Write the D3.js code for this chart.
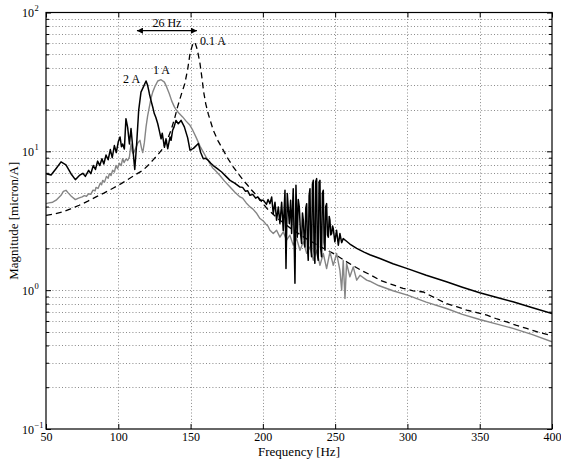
<!DOCTYPE html>
<html>
<head>
<meta charset="utf-8">
<script src="https://cdn.jsdelivr.net/npm/d3@7/dist/d3.min.js"></script>
<style>
  html, body { margin: 0; padding: 0; background: #fff; }
  svg { display: block; }
  text { font-family: "Liberation Serif", "DejaVu Serif", serif; }
</style>
</head>
<body>
<svg id="chart" width="561" height="460"></svg>
<script>
// ---------- data ----------
const xTickValues = [50, 100, 150, 200, 250, 300, 350, 400];
const yDecades = [0.1, 1, 10, 100];
const yDecadeExponents = ["\u22121", "0", "1", "2"];
const xLabel = "Frequency [Hz]";
const yLabel = "Magnitude [micron/A]";

// 2 A (solid black)
const series2A = [
  [50,6.9],[53.5,6.75],[56.9,7.5],[60.4,8.4],[63.8,8.0],[67.3,6.9],[70.3,6.25],[73.1,6.7],
  [75.5,6.95],[77.2,6.6],[79.5,7.3],[81,6.9],[82.7,7.9],[84.2,7.4],[85.7,8.5],[87.2,7.9],
  [88.7,8.85],[90,8.1],[91.5,9.4],[93,8.7],[94.5,10.3],[95.8,9.0],[97.3,11.0],[98.6,9.8],
  [100,11.7],[101.2,12.7],[102.2,10.8],[103,11.3],[104.2,10.4],[105.3,17.2],[106.5,14.8],
  [107.7,11.3],[108.8,14.6],[110.4,9.6],[111.4,7.4],[112.7,11.3],[114.1,19.7],[115.7,26.7],
  [117.3,29.0],[119.2,32.1],[120.3,29.9],[121.5,26],[122.6,23.3],[124,20.5],[124.9,18.7],
  [126,17.5],[127.3,15.8],[128.3,14.2],[129.6,12.3],[130.4,13.5],[131.9,10.7],[133,12.3],
  [134.2,10.45],[135.8,12.7],[136.5,12],[137.6,14.2],[138.6,15],[139.9,16.7],[141.5,15.8],
  [143.4,16.7],[145.7,15],[148,12.5],[149.6,10.2],[152,10.5],[155.4,11.4],[157,9.8],
  [158.8,8.85],[160.5,8.9],[162.3,8.6],[164,8.2],[165.7,7.9],[168.5,7.5],[171.5,7.1],
  [174.5,6.6],[177.3,6.18],[180.5,5.9],[184.2,5.53],[186,5.5],[188,5.15],[189.5,5.2],
  [191.1,4.82],[193,4.9],[195,4.6],[196.5,4.7],[198,4.44],[200.3,4.45],[202.5,4.15],
  [203.6,4.5],[204.9,4.2],
  [206.1,4.69],[207.2,3.56],[208.4,4.3],[209.5,3.19],[210.7,3.98],[211.8,3.02],[213,4.3],
  [214.1,2.69],[215.3,5.24],[216,1.43],[216.9,4.97],[218.3,3.02],[219.2,4.44],[219.9,2.56],
  [221,5.38],[222.2,1.12],[222.9,5.69],[223.8,2.41],[224.5,4.5],[225.2,3.98],[226.0,2.6],
  [226.8,2.17],[227.4,3.6],[228,3.19],[228.6,2.3],[229.1,2.05],[229.7,3.9],[230.3,4.2],
  [230.9,2.0],[231.4,1.64],[232.0,4.8],[232.6,5.38],[233.1,2.1],[233.7,1.74],[234.3,5.8],
  [234.9,6.18],[235.4,1.9],[236,1.56],[236.6,6.1],[237.2,6.36],[237.7,1.8],[238.3,1.64],
  [238.9,6.0],[239.5,6.18],[240.0,2.0],[240.6,1.74],[241.2,5.0],[241.8,5.24],[242.4,2.2],
  [243,1.94],[243.5,4.0],[244.1,4.2],[244.7,2.5],[245.3,2.41],[245.9,3.4],[246.4,3.19],
  [247.0,2.5],[247.6,2.56],[248.2,2.9],[248.7,2.78],[249.8,2.23],[251,2.7],[252.2,2.11],
  [253.3,2.56],[254.5,2.2],[255.6,2.35],[257.9,2.25],[260.2,2.15],[264.9,2.0],[270,1.88],
  [274,1.8],[281,1.69],[290,1.55],[300,1.43],[313,1.28],[327,1.15],[338,1.05],[350,0.957],
  [362,0.885],[373,0.824],[386,0.75],[400,0.679]
];

// 1 A (solid grey)
const series1A = [
  [50,4.2],[52,4.25],[54.6,4.3],[57,4.45],[60.4,4.82],[62,5.15],[63.8,5.24],[65.5,5.0],
  [67.5,4.75],[70.3,4.49],[72.5,4.6],[75,4.7],[76.5,4.8],[78,4.75],[79.5,4.95],[81,4.9],
  [82.5,5.25],[84,5.2],[84.6,5.5],[86,5.4],[87.5,5.9],[88.5,5.75],[89.2,6.18],[90.5,6.0],
  [91.8,6.6],[93,6.4],[93.8,6.9],[95,6.7],[96.1,7.3],[97.3,7.1],[98.4,7.9],[99.5,7.5],
  [100.7,8.2],[102,7.9],[103,8.85],[104,8.3],[105.3,8.8],[106.5,8.6],[107.7,9.1],[108.8,11.3],
  [109.6,10.0],[110.4,9.6],[112,10.5],[113.5,11.5],[115,12.0],[116.1,10.5],[116.9,9.8],
  [118,11.5],[119.2,15.0],[120.3,18],[121.5,20.9],[122.6,24],[123.8,26.7],[125.5,29.5],
  [127.3,32.1],[129.6,32.8],[131.9,31.5],[133.5,29],[135.3,26],[137,23],[138.8,20.9],
  [140.5,19.6],[142.2,18.7],[144.5,17.7],[146.9,16.5],[149.6,15.4],[151.5,14.2],[154,12.5],
  [156.5,10.9],[158.5,10.0],[160.7,9.1],[163.4,8.15],[165.3,7.6],[167,7.3],[170.3,6.7],
  [173.5,6.1],[177.3,5.53],[180.5,5.1],[184.2,4.69],[186,4.6],[188.5,4.25],[191.1,3.98],
  [193,3.85],[195.5,3.6],[198,3.28],[200.3,3.15],[202,3.0],[203.5,2.9],[204.9,2.7],
  [207.2,2.56],[209.5,2.70],[211.8,2.41],[214.1,2.63],[216.4,2.29],[218.7,2.49],[221,2.11],
  [223.3,2.36],[225.7,1.94],[228,2.23],[230.3,1.84],[232.6,2.05],[234.9,1.64],[237.2,1.94],
  [239.5,1.51],[241.8,1.84],[244.1,1.43],[246.4,1.89],[248.7,1.51],[251,1.84],[253.3,1.39],
  [254.5,1.0],[255.6,1.64],[256.8,0.87],[257.9,1.56],[260.2,1.25],[262.5,1.47],[264.9,1.18],
  [267.2,1.28],[271.8,1.18],[274,1.16],[280,1.08],[290,0.99],[300,0.92],[313,0.82],
  [327,0.738],[338,0.67],[350,0.615],[362,0.57],[373,0.53],[386,0.48],[400,0.425]
];

// 0.1 A (dashed black)
const series01A = [
  [50,3.46],[55,3.53],[61.5,3.66],[67,3.85],[73,4.09],[79,4.38],[84.6,4.70],[90,5.0],
  [96,5.40],[102,5.85],[107.7,6.37],[112,6.8],[117,7.30],[120.5,7.9],[123.8,8.61],
  [127.5,9.5],[130.7,10.45],[134,12.2],[136.5,14.2],[139,17.3],[141,20.9],[143.5,25.5],
  [146,30.7],[148,39],[149.6,50.5],[151,57],[151.9,60.3],[153,61],[154.2,56],[155.3,50],
  [156.5,43],[158,33],[159,27],[160.5,22],[162.3,18.5],[165.7,14.2],[169,11.9],[172.6,10.2],
  [176,8.8],[179.6,7.7],[183,6.9],[186.5,6.18],[189.5,5.7],[192.3,5.24],[195,4.9],[198,4.5],
  [202.6,3.9],[210,3.3],[220,2.75],[230,2.35],
  [240,2.05],[248.7,1.84],[258,1.6],[268.4,1.38],[275,1.28],[281,1.18],[289,1.1],[297,1.03],
  [304,0.99],[311,0.97],[319,0.88],[327,0.80],[334,0.76],[341,0.718],[348,0.69],[355,0.66],
  [362,0.62],[368.7,0.59],[375,0.56],[382.5,0.53],[390,0.5],[398.6,0.474],[400,0.47]
];

// annotations: [text, frequency, magnitude]
const curveLabels = [["2 A", 103.3, 31.3], ["1 A", 124, 35.8], ["0.1 A", 156.5, 58]];
const spanArrow = { text: "26 Hz", from: 112.9, to: 154.4, at: 74, textAt: 79 };

// ---------- drawing ----------
const svg = d3.select("#chart");
const mLeft = 46, mRight = 552, mTop = 12.5, mBottom = 429;
const x = d3.scaleLinear().domain([50, 400]).range([mLeft, mRight]);
const y = d3.scaleLog().domain([0.1, 100]).range([mBottom, mTop]);

const minorY = [];
for (let i = 0; i < yDecades.length - 1; i++)
  for (let k = 2; k <= 9; k++) minorY.push(yDecades[i] * k);

// grid
const grid = svg.append("g").attr("stroke", "#8a8a8a").attr("stroke-width", 1)
  .attr("stroke-dasharray", "1,2.2").attr("fill", "none");
grid.selectAll("line.gx").data(xTickValues.slice(1, -1)).join("line")
  .attr("x1", d => Math.round(x(d)) + 0.5).attr("x2", d => Math.round(x(d)) + 0.5).attr("y1", mTop).attr("y2", mBottom);
grid.selectAll("line.gy").data(yDecades.slice(1, -1).concat(minorY)).join("line")
  .attr("x1", mLeft).attr("x2", mRight).attr("y1", d => Math.round(y(d)) + 0.5).attr("y2", d => Math.round(y(d)) + 0.5);

// clip
svg.append("clipPath").attr("id", "clip").append("rect")
  .attr("x", mLeft).attr("y", mTop).attr("width", mRight - mLeft).attr("height", mBottom - mTop);

const line = d3.line().x(d => x(d[0])).y(d => y(d[1]));
const plot = svg.append("g").attr("clip-path", "url(#clip)").attr("fill", "none");
plot.append("path").datum(series01A).attr("d", line)
  .attr("stroke", "#000").attr("stroke-width", 1.3).attr("stroke-dasharray", "6,4");
plot.append("path").datum(series1A).attr("d", line)
  .attr("stroke", "#858585").attr("stroke-width", 1.4).attr("stroke-linejoin", "round");
plot.append("path").datum(series2A).attr("d", line)
  .attr("stroke", "#000").attr("stroke-width", 1.5).attr("stroke-linejoin", "round");

// axes (inward ticks on all sides)
function clean(g) { g.select(".domain").remove(); g.selectAll(".tick line").attr("stroke", "#000"); }
const fontTick = 12;
svg.append("g").attr("transform", `translate(0,${mBottom})`)
  .call(d3.axisBottom(x).tickValues(xTickValues).tickSize(-5).tickPadding(3).tickFormat(d3.format("d")))
  .call(clean)
  .call(g => g.selectAll("text").attr("font-size", fontTick).attr("fill", "#000")
    .attr("font-family", '"Liberation Serif", serif'));
svg.append("g").attr("transform", `translate(0,${mTop})`)
  .call(d3.axisTop(x).tickValues(xTickValues).tickSize(-5).tickFormat(""))
  .call(clean);
svg.append("g").attr("transform", `translate(${mLeft},0)`)
  .call(d3.axisLeft(y).tickValues(yDecades).tickSize(-5).tickFormat(""))
  .call(clean);
svg.append("g").attr("transform", `translate(${mLeft},0)`)
  .call(d3.axisLeft(y).tickValues(minorY).tickSize(-3).tickFormat(""))
  .call(clean);
svg.append("g").attr("transform", `translate(${mRight},0)`)
  .call(d3.axisRight(y).tickValues(yDecades).tickSize(-5).tickFormat(""))
  .call(clean);
svg.append("g").attr("transform", `translate(${mRight},0)`)
  .call(d3.axisRight(y).tickValues(minorY).tickSize(-3).tickFormat(""))
  .call(clean);

// box
svg.append("rect").attr("x", mLeft).attr("y", mTop).attr("width", mRight - mLeft).attr("height", mBottom - mTop)
  .attr("fill", "none").attr("stroke", "#000").attr("stroke-width", 1.2);

// y decade labels with superscripts
const yl = svg.append("g").attr("font-size", fontTick).attr("fill", "#000");
yDecades.forEach((d, i) => {
  yl.append("text").attr("x", 34).attr("y", y(d) + 4.5).attr("text-anchor", "end").text("10");
  yl.append("text").attr("x", 34.5).attr("y", y(d) - 1.5).attr("font-size", 8.5)
    .attr("text-anchor", "start").text(yDecadeExponents[i]);
});

// axis titles
svg.append("text").attr("x", (mLeft + mRight) / 2).attr("y", 456).attr("text-anchor", "middle")
  .attr("font-size", 13).text(xLabel);
svg.append("text").attr("transform", `translate(18,${(mTop + mBottom) / 2}) rotate(-90)`)
  .attr("text-anchor", "middle").attr("font-size", 13).text(yLabel);

// curve labels
svg.append("g").attr("font-size", fontTick).selectAll("text").data(curveLabels).join("text")
  .attr("x", d => x(d[1])).attr("y", d => y(d[2])).text(d => d[0]);

// 26 Hz arrow
const defs = svg.append("defs");
["s", "e"].forEach(k => {
  defs.append("marker").attr("id", "arr" + k).attr("viewBox", "0 0 10 10")
    .attr("refX", 10).attr("refY", 5).attr("markerWidth", 7).attr("markerHeight", 6)
    .attr("markerUnits", "userSpaceOnUse").attr("orient", k === "e" ? "auto" : "auto-start-reverse")
    .append("path").attr("d", "M0,0 L10,5 L0,10 z").attr("fill", "#000");
});
svg.append("line").attr("x1", x(spanArrow.from)).attr("x2", x(spanArrow.to))
  .attr("y1", y(spanArrow.at)).attr("y2", y(spanArrow.at))
  .attr("stroke", "#000").attr("stroke-width", 1.2)
  .attr("marker-start", "url(#arrs)").attr("marker-end", "url(#arre)");
svg.append("text").attr("x", x((spanArrow.from + spanArrow.to) / 2)).attr("y", y(spanArrow.textAt))
  .attr("text-anchor", "middle").attr("font-size", fontTick).text(spanArrow.text);
</script>
</body>
</html>
